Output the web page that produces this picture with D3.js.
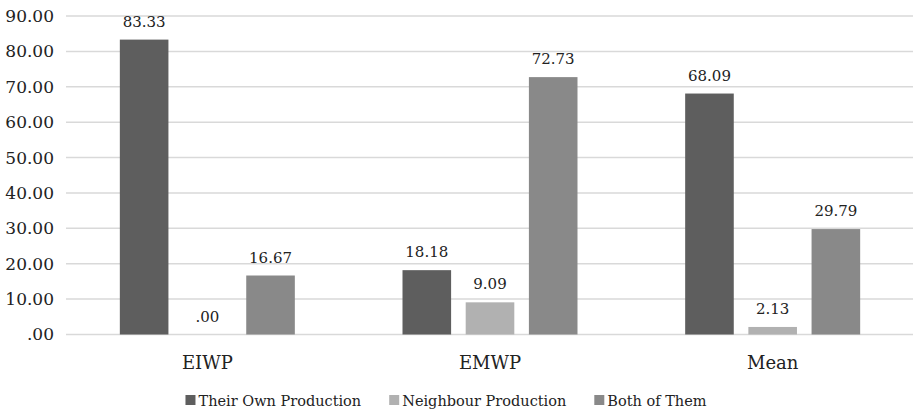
<!DOCTYPE html>
<html><head><meta charset="utf-8">
<script src="https://cdn.jsdelivr.net/npm/d3@7"></script>
<style>body{margin:0;background:#fff}svg{display:block}</style>
</head><body><svg id="c" width="913" height="413"></svg>
<script>
const categories = ["EIWP", "EMWP", "Mean"];
const seriesNames = ["Their Own Production", "Neighbour Production", "Both of Them"];
const ownProduction = [83.33, 18.18, 68.09];
const neighbourProduction = [0.00, 9.09, 2.13];
const bothOfThem = [16.67, 72.73, 29.79];
const yTicks = [0, 10, 20, 30, 40, 50, 60, 70, 80, 90];
const colors = ["#5e5e5e", "#b1b1b1", "#898989"];

const FONT = "DejaVu Serif, serif";
const seriesValues = [ownProduction, neighbourProduction, bothOfThem];
const fmt = v => d3.format(".2f")(v).replace(/^0\./, ".");

const svg = d3.select("#c").attr("font-family", FONT);
const y = d3.scaleLinear().domain([0, 90]).range([334.5, 16]);
const x0 = d3.scaleBand().domain(categories).range([66, 914]).padding(0);
const grpW = 175;
const x1 = d3.scaleBand().domain(seriesNames).range([0, grpW]).paddingInner(0.231).paddingOuter(0);

// gridlines
svg.append("g").selectAll("line").data(yTicks).join("line")
  .attr("x1", 66).attr("x2", 913)
  .attr("y1", d => y(d)).attr("y2", d => y(d))
  .attr("stroke", "#d9d9d9").attr("stroke-width", 1.5);

// y axis labels
const yAxis = d3.axisLeft(y).tickValues(yTicks).tickFormat(fmt).tickSize(0).tickPadding(0);
const ya = svg.append("g").attr("transform", "translate(54,0)").call(yAxis);
ya.attr("font-family", FONT);
ya.select(".domain").remove();
ya.selectAll("text").attr("font-size", 17).attr("fill", "#222").attr("font-family", FONT);

// bars
const groups = svg.append("g").selectAll("g").data(categories).join("g")
  .attr("transform", c => `translate(${x0(c) + (x0.bandwidth() - grpW) / 2},0)`);
groups.each(function(c, ci) {
  const g = d3.select(this);
  seriesNames.forEach((s, si) => {
    const v = seriesValues[si][ci];
    g.append("rect")
      .attr("x", x1(s)).attr("width", x1.bandwidth())
      .attr("y", y(v)).attr("height", y(0) - y(v))
      .attr("fill", colors[si]);
    g.append("text")
      .attr("x", x1(s) + x1.bandwidth() / 2)
      .attr("y", y(v) - 13)
      .attr("text-anchor", "middle").attr("font-size", 15).attr("fill", "#222")
      .attr("font-family", FONT)
      .text(fmt(v));
  });
});

// x axis labels
const xAxis = d3.axisBottom(x0).tickSize(0).tickPadding(0);
const xa = svg.append("g").attr("transform", "translate(0,355)").call(xAxis);
xa.attr("font-family", FONT);
xa.select(".domain").remove();
xa.selectAll("text").attr("font-size", 18).attr("fill", "#222").attr("dy", "0.75em").attr("font-family", FONT);

// legend
const leg = svg.append("g");
let cx = 0;
seriesNames.forEach((s, i) => {
  const it = leg.append("g").attr("transform", `translate(${cx},0)`);
  it.append("rect").attr("x", 0).attr("y", 395).attr("width", 10).attr("height", 10).attr("fill", colors[i]);
  const t = it.append("text").attr("x", 13).attr("y", 406).attr("font-size", 14.5).attr("fill", "#222")
    .attr("font-family", FONT).text(s);
  const w = t.node().getComputedTextLength();
  cx += 13 + w + 28;
});
const totalW = cx - 28;
leg.attr("transform", `translate(${446 - totalW / 2},0)`);
</script></body></html>
